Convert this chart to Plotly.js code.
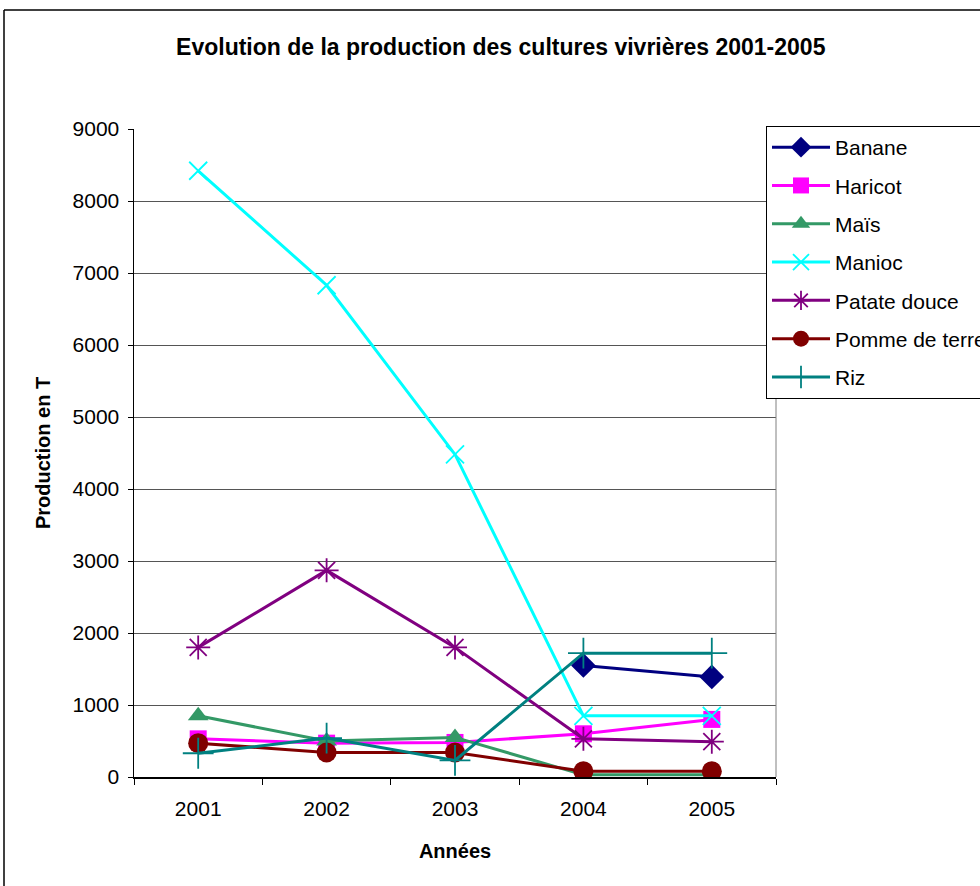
<!DOCTYPE html>
<html><head><meta charset="utf-8">
<script src="https://cdn.plot.ly/plotly-3.0.1.min.js"></script>
<style>html,body{margin:0;padding:0;background:#fff;overflow:hidden;}#chart{width:980px;height:886px;}</style>
</head><body><div id="chart"></div>
<script>
const years = ['2001','2002','2003','2004','2005'];
const banane = [null, null, null, 1550, 1390];
const haricot = [530, 470, 480, 600, 800];
const mais = [850, 500, 550, 30, 30];
const manioc = [8420, 6830, 4480, 850, 850];
const patate = [1800, 2870, 1800, 530, 490];
const pomme = [470, 340, 340, 80, 80];
const riz = [330, 540, 230, 1720, 1720];

const seriesNames = ['Banane','Haricot','Maïs','Manioc','Patate douce','Pomme de terre','Riz'];
const seriesData = [banane, haricot, mais, manioc, patate, pomme, riz];
const colors = ['#000080','#FF00FF','#339966','#00FFFF','#800080','#800000','#008080'];
const symbols = ['diamond','square','triangle-up','x-thin','asterisk','circle','cross-thin'];
const sizes = [19,17,18,18,20,20,22];

const traces = seriesNames.map((n,i)=>({
  type:'scatter', mode:'lines+markers', name:n, x:years, y:seriesData[i], legendgroup:'g'+i,
  line:{color:colors[i], width:3},
  marker:{symbol:symbols[i], size:sizes[i], color:colors[i], line:{color:colors[i], width:(symbols[i].indexOf('thin')>=0||symbols[i]==='asterisk')?1.8:0}},
  connectgaps:false
}));

const layout = {
  width:980, height:886,
  paper_bgcolor:'#fff', plot_bgcolor:'#fff',
  font:{family:'Liberation Sans, Arial, sans-serif', color:'#000', size:21},
  margin:{l:134, r:204, t:129, b:109, pad:0, autoexpand:false},
  title:{text:'<b>Evolution de la production des cultures vivrières 2001-2005</b>', x:0.511, xanchor:'center', y:0.947, yanchor:'middle', font:{size:23}},
  xaxis:{type:'category', range:[-0.5,4.5], showgrid:false, showline:true, linecolor:'#000', linewidth:1.5,
    ticks:'outside', tickson:'boundaries', ticklen:6, tickcolor:'#000', tickfont:{size:21}, ticklabelstandoff:12,
    title:{text:'<b>Années</b>', font:{size:20}, standoff:25}, mirror:false},
  yaxis:{range:[0,9000], dtick:1000, showgrid:true, gridcolor:'#555', gridwidth:1, showline:true, linecolor:'#000', linewidth:1.5,
    ticks:'outside', ticklen:5, tickcolor:'#000', tickfont:{size:21}, zeroline:false, ticklabelstandoff:4,
    title:{text:'<b>Production en T</b>', font:{size:20}, standoff:16}},
  legend:{x:(766-134)/642, xanchor:'left', y:1+3/648, yanchor:'top', bordercolor:'#000', borderwidth:1, bgcolor:'#fff',
    font:{size:21}, tracegroupgap:8, itemwidth:58},
  shapes:[
    {type:'line', xref:'paper', yref:'paper', x0:1, x1:1, y0:0, y1:1, line:{color:'#808080', width:1}},
    {type:'line', xref:'paper', yref:'paper', x0:-130/642, x1:-130/642, y0:-110/648, y1:1+119/648, line:{color:'#000', width:1.5}},
    {type:'line', xref:'paper', yref:'paper', x0:-130/642, x1:1+204/642, y0:1+119/648, y1:1+119/648, line:{color:'#000', width:1.5}}
  ],
  showlegend:true
};
Plotly.newPlot('chart', traces, layout, {displayModeBar:false, staticPlot:true});
</script></body></html>
